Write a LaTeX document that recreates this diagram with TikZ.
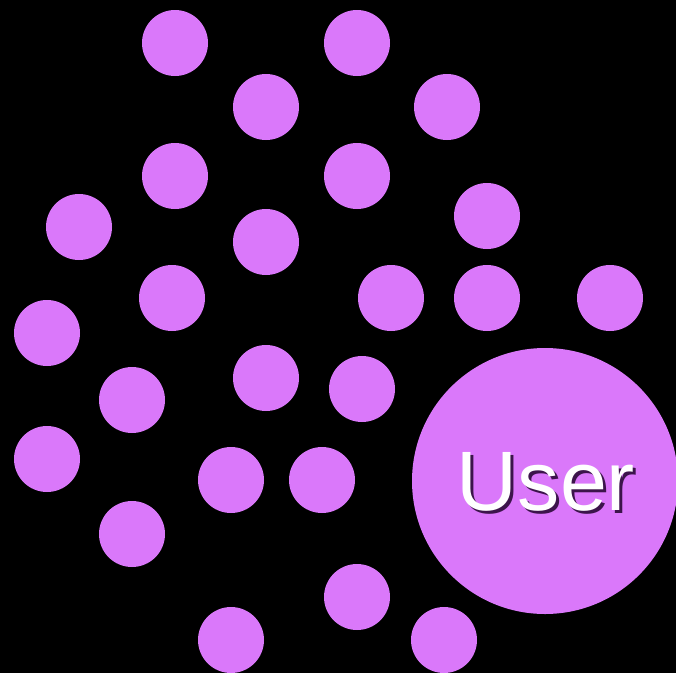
\documentclass[tikz,border=0pt]{standalone}
\usepackage{fontspec}
\setmainfont{Liberation Sans}
\usepackage{tikz}
\usetikzlibrary{shapes.geometric}
\definecolor{dotviolet}{RGB}{218,120,250}
\definecolor{shadowviolet}{RGB}{60,20,75}
\tikzstyle{dotnode} = [circle, minimum size=66*0.03cm, inner sep=0pt, fill=dotviolet]
\tikzstyle{usernode} = [circle, minimum size=266*0.03cm, inner sep=0pt, fill=dotviolet]
\tikzstyle{usertext} = [inner sep=0pt, text=white, font=\fontsize{72}{80}\selectfont]
\newcommand{\shadowed}[1]{\makebox[0pt][l]{\hspace{0.09cm}\raisebox{-0.09cm}{\textcolor{shadowviolet}{#1}}}#1}

\begin{document}
\begin{tikzpicture}[x=0.03cm, y=-0.03cm]
    \fill [black] (0,0) rectangle (676,673);
    \useasboundingbox (0,0) rectangle (676,673);

    \node (dot1) [dotnode] at (175,43) {};
    \node (dot2) [dotnode] at (357,43) {};
    \node (dot3) [dotnode] at (266,107) {};
    \node (dot4) [dotnode] at (447,107) {};
    \node (dot5) [dotnode] at (175,176) {};
    \node (dot6) [dotnode] at (357,176) {};
    \node (dot7) [dotnode] at (79,227) {};
    \node (dot8) [dotnode] at (266,242) {};
    \node (dot9) [dotnode] at (487,216) {};
    \node (dot10) [dotnode] at (172,298) {};
    \node (dot11) [dotnode] at (391,298) {};
    \node (dot12) [dotnode] at (487,298) {};
    \node (dot13) [dotnode] at (610,298) {};
    \node (dot14) [dotnode] at (47,333) {};
    \node (dot15) [dotnode] at (266,378) {};
    \node (dot16) [dotnode] at (362,389) {};
    \node (dot17) [dotnode] at (132,400) {};
    \node (dot18) [dotnode] at (47,459) {};
    \node (dot19) [dotnode] at (231,480) {};
    \node (dot20) [dotnode] at (322,480) {};
    \node (dot21) [dotnode] at (132,534) {};
    \node (dot22) [dotnode] at (357,597) {};
    \node (dot23) [dotnode] at (231,640) {};
    \node (dot24) [dotnode] at (444,640) {};

    \node (user) [usernode] at (545,481) {};
    \node (userlabel) [usertext] at ([shift={(1,2)}]user.center) {\shadowed{User}};
  \end{tikzpicture}
\end{document}
